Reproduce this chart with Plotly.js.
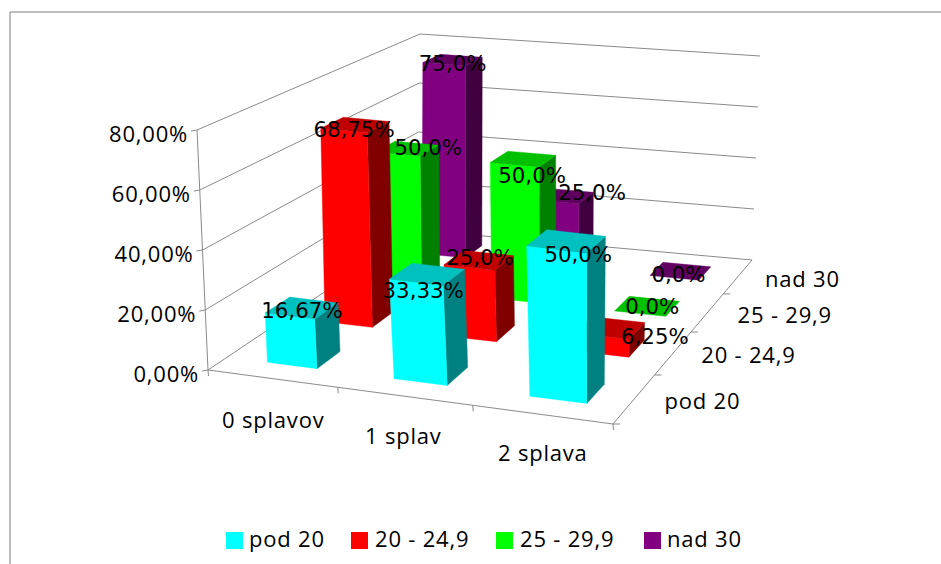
<!DOCTYPE html>
<html>
<head>
<meta charset="utf-8">
<script src="https://cdn.plot.ly/plotly-3.0.1.min.js"></script>
<style>
html,body{margin:0;padding:0;background:#fff}
#chart{width:941px;height:564px}
text[style*="Open Sans"]{letter-spacing:.8px}
</style>
</head>
<body>
<div id="chart"></div>
<script>
// Clustered 3-D columns: share of respondents by number of rafting trips and BMI band.
const categories = ['0 splavov', '1 splav', '2 splava'];
const seriesNames = ['pod 20', '20 - 24,9', '25 - 29,9', 'nad 30'];
const pod20 = [16.67, 33.33, 50.0];
const from20to249 = [68.75, 25.0, 6.25];
const from25to299 = [50.0, 50.0, 0.0];
const nad30 = [75.0, 25.0, 0.0];
const seriesValues = [pod20, from20to249, from25to299, nad30];
const valueLabels = [
  ['16,67%', '33,33%', '50,0%'],
  ['68,75%', '25,0%', '6,25%'],
  ['50,0%', '50,0%', '0,0%'],
  ['75,0%', '25,0%', '0,0%']
];
const valueTicks = [0, 20, 40, 60, 80];
const valueTickLabels = ['0,00%', '20,00%', '40,00%', '60,00%', '80,00%'];

const faceColors = [
  {front: '#00ffff', side: '#008080', top: '#00c0c0'},
  {front: '#ff0000', side: '#800000', top: '#c00000'},
  {front: '#00ff00', side: '#008000', top: '#00c000'},
  {front: '#800080', side: '#400040', top: '#600060'}
];
const legendColors = ['#00ffff', '#ff0000', '#00ff00', '#800080'];
const legendSwatchX = [234.5, 359.5, 504.5, 652.5];
const legendTextX = [249, 375, 520, 667];

// View of the box: screen position of the floor and ceiling corners.
const floorQuad = [[208, 370], [613, 424], [752, 260], [417, 230]];
const ceilQuad = [[197, 130], [616, 180], [760, 56], [420, 34]];
const valueMax = 80;
const barFill = 0.40;
const barShift = 0.0105;

function quadMap(q) {
  const [p0, p1, p2, p3] = q;
  const dx1 = p1[0] - p2[0], dx2 = p3[0] - p2[0], sx = p0[0] - p1[0] + p2[0] - p3[0];
  const dy1 = p1[1] - p2[1], dy2 = p3[1] - p2[1], sy = p0[1] - p1[1] + p2[1] - p3[1];
  const den = dx1 * dy2 - dx2 * dy1;
  const g = (sx * dy2 - dx2 * sy) / den, h = (dx1 * sy - sx * dy1) / den;
  const a = p1[0] - p0[0] + g * p1[0], b = p3[0] - p0[0] + h * p3[0], c = p0[0];
  const d = p1[1] - p0[1] + g * p1[1], e = p3[1] - p0[1] + h * p3[1], f = p0[1];
  return (u, v) => {
    const w = g * u + h * v + 1;
    return [(a * u + b * v + c) / w, (d * u + e * v + f) / w];
  };
}
const floorMap = quadMap(floorQuad), ceilMap = quadMap(ceilQuad);
function project(u, v, value) {
  const t = value / valueMax, p = floorMap(u, v), q = ceilMap(u, v);
  return [p[0] + (q[0] - p[0]) * t, p[1] + (q[1] - p[1]) * t];
}

const traces = [];
function polygon(pts, color) {
  traces.push({
    type: 'scatter', mode: 'lines', x: pts.map(p => p[0]).concat(pts[0][0]),
    y: pts.map(p => p[1]).concat(pts[0][1]), fill: 'toself', fillcolor: color,
    line: {width: 0.4, color: color}, hoverinfo: 'skip', showlegend: false
  });
}
function lines(segments, color, width) {
  const x = [], y = [];
  segments.forEach(s => { x.push(s[0][0], s[1][0], null); y.push(s[0][1], s[1][1], null); });
  traces.push({type: 'scatter', mode: 'lines', x, y, line: {color, width},
    hoverinfo: 'skip', showlegend: false});
}
function textAt(pts, labels, pos, font) {
  traces.push({type: 'scatter', mode: 'text', x: pts.map(p => p[0]), y: pts.map(p => p[1]),
    text: labels, textposition: pos, textfont: font, hoverinfo: 'skip', showlegend: false, cliponaxis: false});
}

// Walls, floor edges and tick marks.
const seg = [];
valueTicks.forEach(t => {
  seg.push([project(0, 0, t), project(0, 1, t)]);
  seg.push([project(0, 1, t), project(1, 1, t)]);
  const a = project(0, 0, t);
  seg.push([[a[0] - 6, a[1] + 1], a]);
});
seg.push([project(0, 0, 0), project(0, 0, valueMax)]);
seg.push([project(0, 0, 0), project(1, 0, 0)]);
seg.push([project(1, 0, 0), project(1, 1, 0)]);
[0, 1, 2, 3].forEach(i => {
  const a = project(i / 3 + (i % 3 ? barShift : 0), 0, 0);
  seg.push([a, [a[0] + 0.5, a[1] + 6]]);
});
[0, 1, 2, 3].forEach(i => {
  const a = project(1, i / 4, 0);
  seg.push([a, [a[0] + 7, a[1]]]);
});
lines(seg, '#8a8a8a', 1);

// Columns are painted back row first, left to right, so nearer faces overlap.
for (let s = seriesValues.length - 1; s >= 0; s--) {
  seriesValues[s].forEach((val, c) => {
    const uc = (c + 0.5) / categories.length + barShift, vc = (s + 0.5) / seriesNames.length;
    const du = barFill / categories.length / 2, dv = barFill / seriesNames.length / 2;
    const u0 = uc - du, u1 = uc + du, v0 = vc - dv, v1 = vc + dv;
    const col = faceColors[s];
    if (val > 0) {
      polygon([project(u1, v0, 0), project(u1, v1, 0), project(u1, v1, val), project(u1, v0, val)], col.side);
      polygon([project(u0, v0, 0), project(u1, v0, 0), project(u1, v0, val), project(u0, v0, val)], col.front);
    }
    polygon([project(u0, v0, val), project(u1, v0, val), project(u1, v1, val), project(u0, v1, val)], col.top);
  });
}

// Value labels, nudged from each column's top centre.
const labelNudge = [
  [[0, 5], [-4, 19], [12, 16]],
  [[-1, 7], [1, -1], [45, 11]],
  [[21, 1], [9, 19], [5, 3]],
  [[0, 6], [29, -1], [-2, 6]]
];
const labelFont = {family: 'DejaVu Sans', size: 21.3, color: '#000'};
seriesValues.forEach((vals, s) => {
  const pts = vals.map((val, c) => {
    const p = project((c + 0.5) / categories.length + barShift, (s + 0.5) / seriesNames.length, val);
    return [p[0] + labelNudge[s][c][0], p[1] + labelNudge[s][c][1]];
  });
  textAt(pts, valueLabels[s], 'middle center', labelFont);
});

// Axis labels.
const axisFont = {family: 'Open Sans', size: 22, color: '#000'};
textAt(valueTicks.map(t => { const a = project(0, 0, t); return [a[0] - 9, a[1] + 6]; }),
  valueTickLabels, 'middle left', axisFont);
textAt(categories.map((_, i) => {
  const a = project((i + 0.5) / 3, 0, 0);
  return [a[0] + 3.5, a[1] + 44 - 1.5 * i];
}), categories, 'middle center', axisFont);
const depthLabelGap = [30, 28, 30, 27];
textAt(seriesNames.map((_, i) => {
  const a = project(1, (i + 0.5) / 4, 0);
  return [a[0] + depthLabelGap[i], a[1] + 5];
}), seriesNames, 'middle right', axisFont);

// Legend row along the bottom edge.
seriesNames.forEach((name, i) => {
  traces.push({type: 'scatter', mode: 'markers', x: [legendSwatchX[i]], y: [540.5], name,
    marker: {symbol: 'square', size: 17, color: legendColors[i]}, showlegend: false, hoverinfo: 'skip'});
});
textAt(legendTextX.map(x => [x, 541]), seriesNames, 'middle right', axisFont);

const layout = {
  width: 941, height: 564, margin: {l: 0, r: 0, t: 0, b: 0},
  paper_bgcolor: '#fff', plot_bgcolor: '#fff',
  xaxis: {range: [0, 941], visible: false, fixedrange: true},
  yaxis: {range: [564, 0], visible: false, fixedrange: true},
  showlegend: false,
  shapes: [
    {type: 'line', xref: 'paper', yref: 'paper', x0: 10 / 941, x1: 1, y0: 1 - 12 / 564, y1: 1 - 12 / 564, line: {color: '#a6a6a6', width: 1.5}},
    {type: 'line', xref: 'paper', yref: 'paper', x0: 10 / 941, x1: 10 / 941, y0: 0, y1: 1 - 12 / 564, line: {color: '#a6a6a6', width: 1.5}}
  ]
};
Plotly.newPlot('chart', traces, layout, {displayModeBar: false, staticPlot: true});
</script>
</body>
</html>
